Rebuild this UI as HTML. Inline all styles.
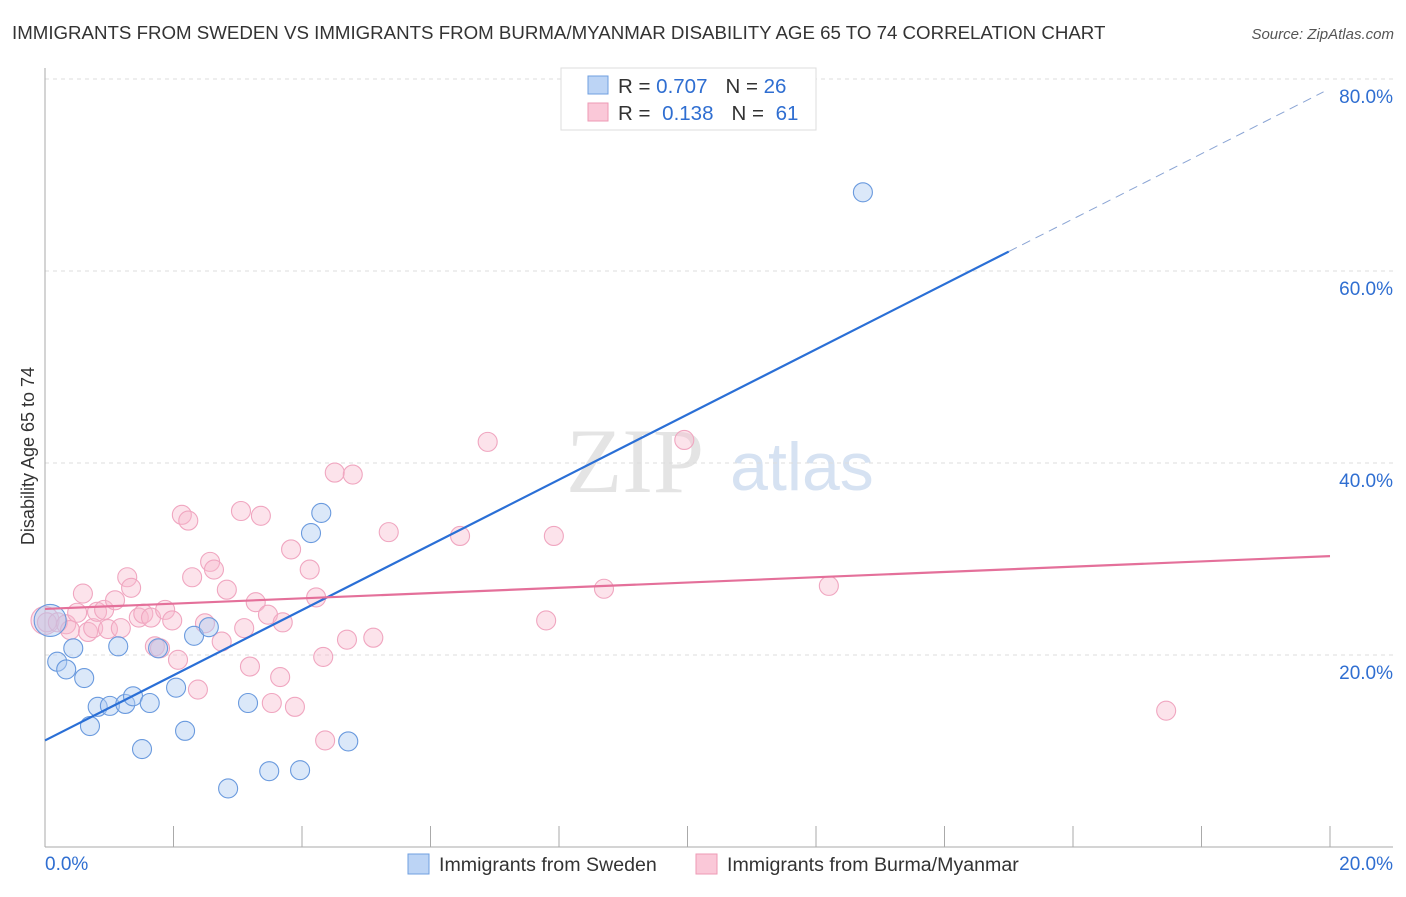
<!DOCTYPE html>
<html><head><meta charset="utf-8"><style>
body{margin:0;background:#fff;font-family:"Liberation Sans",sans-serif;}
</style></head><body>
<svg id="c" width="1406" height="892" xmlns="http://www.w3.org/2000/svg">
<text x="12" y="39" font-size="18.7" fill="#333">IMMIGRANTS FROM SWEDEN VS IMMIGRANTS FROM BURMA/MYANMAR DISABILITY AGE 65 TO 74 CORRELATION CHART</text>
<text x="1394" y="39" font-size="15" fill="#555" text-anchor="end" font-style="italic">Source: ZipAtlas.com</text>
<text x="635" y="492" font-size="92" fill="#e4e4e4" font-family="Liberation Serif" text-anchor="middle">ZIP</text>
<text x="802" y="490" font-size="68" fill="#d6e2f2" text-anchor="middle">atlas</text>
<g id="grid"></g>
<g id="axes"></g>
<g id="pts"></g>
<g id="lines"></g>
<text x="34" y="456" font-size="18" fill="#333" text-anchor="middle" transform="rotate(-90 34 456)">Disability Age 65 to 74</text>
<g>
<rect x="561" y="68" width="255" height="62" fill="#fff" stroke="#ddd"/>
<rect x="588" y="76" width="20" height="18" fill="#bcd4f5" stroke="#6f9fe0"/>
<rect x="588" y="103" width="20" height="18" fill="#fac8d8" stroke="#ee9ab5"/>
<text x="618" y="93" font-size="20.5" fill="#333">R = <tspan fill="#2f6ed1">0.707</tspan><tspan dx="18">N = </tspan><tspan fill="#2f6ed1">26</tspan></text>
<text x="618" y="120" font-size="20.5" fill="#333">R = <tspan dx="6" fill="#2f6ed1">0.138</tspan><tspan dx="18">N = </tspan><tspan dx="6" fill="#2f6ed1">61</tspan></text>
</g>
<g>
<rect x="408" y="854" width="21" height="20" fill="#bcd4f5" stroke="#6f9fe0"/>
<text x="439" y="871" font-size="19.6" fill="#333">Immigrants from Sweden</text>
<rect x="696" y="854" width="21" height="20" fill="#fac8d8" stroke="#ee9ab5"/>
<text x="727" y="871" font-size="19.6" fill="#333">Immigrants from Burma/Myanmar</text>
</g>
</svg>
<script>
const yTicks=[20,40,60,80];
const yTickLabels=["20.0%","40.0%","60.0%","80.0%"];
const xTicks=[0,2,4,6,8,10,12,14,16,18,20];
const swedenX=[0.08,0.19,0.33,0.44,0.61,0.70,0.82,1.01,1.14,1.25,1.37,1.51,1.63,1.76,2.04,2.18,2.32,2.55,2.85,3.16,3.49,3.97,4.14,4.30,4.72,12.73];
const swedenY=[23.6,19.3,18.5,20.7,17.6,12.6,14.6,14.7,20.9,14.9,15.7,10.2,15.0,20.7,16.6,12.1,22.0,22.9,6.1,15.0,7.9,8.0,32.7,34.8,11.0,68.2];
const burmaX=[0.00,0.03,0.20,0.33,0.39,0.50,0.59,0.67,0.75,0.81,0.92,0.98,1.09,1.18,1.28,1.34,1.46,1.53,1.65,1.71,1.79,1.87,1.98,2.07,2.13,2.23,2.29,2.38,2.49,2.57,2.63,2.75,2.83,3.05,3.10,3.19,3.28,3.36,3.47,3.53,3.66,3.70,3.83,3.89,4.12,4.22,4.33,4.36,4.51,4.70,4.79,5.11,5.35,6.46,6.89,7.80,7.92,8.70,9.95,12.20,17.45];
const burmaY=[23.6,23.4,23.4,23.2,22.6,24.4,26.4,22.4,22.8,24.5,24.7,22.7,25.7,22.8,28.1,27.0,23.9,24.3,23.9,20.9,20.7,24.7,23.6,19.5,34.6,34.0,28.1,16.4,23.3,29.7,28.9,21.4,26.8,35.0,22.8,18.8,25.5,34.5,24.2,15.0,17.7,23.4,31.0,14.6,28.9,26.0,19.8,11.1,39.0,21.6,38.8,21.8,32.8,32.4,42.2,23.6,32.4,26.9,42.4,27.2,14.2];
const swedenFit=[11.1,79.0];
const burmaFit=[24.8,30.3];
const NS="http://www.w3.org/2000/svg";
const X=v=>45+v*64.25, Y=v=>847-v*9.6;
function mk(t,a,p){const e=document.createElementNS(NS,t);for(const k in a)e.setAttribute(k,a[k]);document.getElementById(p).appendChild(e);return e;}
yTicks.forEach((t,i)=>{
 const g=mk('line',{x1:45,x2:1393,y1:Y(t),y2:Y(t),stroke:'#ddd','stroke-dasharray':'4 4'},'grid');
 
 
 const l=mk('text',{x:1393,y:Y(t)+24,'font-size':19,fill:'#2f6ed1','text-anchor':'end'},'grid');
 l.textContent=yTickLabels[i];
 
 
});
const ax=mk('line',{x1:45,x2:1393,y1:847,y2:847,stroke:'#aaa'},'axes');


const ay=mk('line',{x1:45,x2:45,y1:68,y2:847,stroke:'#aaa'},'axes');


xTicks.forEach(t=>{if(t===0)return;
 const k=mk('line',{x1:X(t),x2:X(t),y1:826,y2:847,stroke:'#aaa'},'axes');
 
 
});
const xl0=mk('text',{x:45,y:870,'font-size':19,fill:'#2f6ed1'},'axes');xl0.textContent='0.0%';


const xl1=mk('text',{x:1393,y:870,'font-size':19,fill:'#2f6ed1','text-anchor':'end'},'axes');xl1.textContent='20.0%';


burmaX.forEach((v,i)=>{
 const c=mk('circle',{cx:X(v),cy:Y(burmaY[i]),r:i===0?14:9.5,fill:'rgba(248,185,205,0.4)',stroke:'#f0a6c0','stroke-width':1.1},'pts');
 
 
});
swedenX.forEach((v,i)=>{
 const c=mk('circle',{cx:X(v),cy:Y(swedenY[i]),r:i===0?16:9.5,fill:'rgba(175,205,242,0.45)',stroke:'#6a9ade','stroke-width':1.1},'pts');
 
 
});
const sy=x=>swedenFit[0]+(swedenFit[1]-swedenFit[0])*x/20;
const bs=mk('line',{x1:X(0),y1:Y(sy(0)),x2:X(15),y2:Y(sy(15)),stroke:'#2a6fd6','stroke-width':2.2},'lines');


const bd=mk('line',{x1:X(15),y1:Y(sy(15)),x2:X(19.9),y2:Y(sy(19.9)),stroke:'#8aa4d4','stroke-width':1,'stroke-dasharray':'9 6'},'lines');


const pl=mk('line',{x1:X(0),y1:Y(burmaFit[0]),x2:X(20),y2:Y(burmaFit[1]),stroke:'#e4709a','stroke-width':2.2},'lines');


</script>
</body></html>
